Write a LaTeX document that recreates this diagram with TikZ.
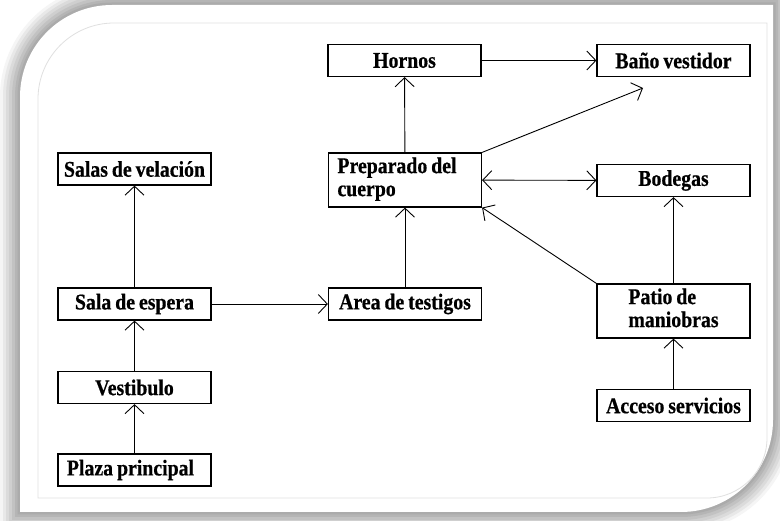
\documentclass[tikz,border=0pt]{standalone}
\usepackage{fontspec}
\setmainfont{Liberation Serif}[BoldFeatures={FakeStretch=0.88, FakeBold=0.6, WordSpace=0.8}]
\usetikzlibrary{arrows.meta}

\tikzset{
	place/.style={draw, line width=1.2pt, minimum width=153pt, minimum height=32pt,
			inner sep=4pt, font=\fontsize{22.5}{23}\selectfont\bfseries, align=center},
	barb/.tip={Straight Barb[length=9pt,width=19pt,line width=0.9pt]},
	flow/.style={line width=0.9pt, -barb}
}
\newcommand\shellpath{(20,512) [rounded corners=92pt] -- (20,5) [sharp corners] -- (773,5)
	[rounded corners=92pt] -- (773,512) [sharp corners] -- cycle}

\begin{document}
\begin{tikzpicture}[x=1pt, y=-1pt]
		\clip (0,0) rectangle (780,521);
		\fill[white] (0,0) rectangle (780,521);
		% soft shadow round the sheet
		\foreach \w/\g in {40/4, 34/9, 28/14, 22/19, 16/24, 10/29, 5/33}
			\draw[line width=\w pt, draw=black!\g] \shellpath;
		\fill[white] \shellpath;
		\draw[line width=0.8pt, draw=black!12] (38,498) [rounded corners=76pt] -- (38,23)
			[sharp corners] -- (767,23) [rounded corners=60pt] -- (767,498) [sharp corners] -- cycle;

		% rooms
		\node[place] (hornos) at (404.5,60.5) {Hornos};
		\node[place] (bano) at (673.5,60.5) {Baño vestidor};
		\node[place] (velacion) at (134.5,169) {Salas de velación};
		\node[place, minimum height=54pt] (preparado) at (405,180)
			{\begin{tabular}{@{}l@{\hspace{16pt}}}Preparado del\\cuerpo\end{tabular}};
		\node[place] (bodegas) at (673.5,180.5) {Bodegas};
		\node[place] (espera) at (134.5,304) {Sala de espera};
		\node[place] (testigos) at (405,304) {Area de testigos};
		\node[place, minimum height=54pt] (patio) at (673.5,311)
			{\begin{tabular}{@{}l@{}}Patio de\\maniobras\end{tabular}};
		\node[place] (vestibulo) at (134.5,387.5) {Vestibulo};
		\node[place] (plaza) at (134.5,470) {Plaza principal\hspace{8pt}};
		\node[place] (acceso) at (673.5,405.5) {Acceso servicios};
		\coordinate (banolibre) at (643,88);

		% circulation
		\draw[flow] (plaza) -- (vestibulo);
		\draw[flow] (vestibulo) -- (espera);
		\draw[flow] (espera) -- (velacion);
		\draw[flow] (espera) -- (testigos);
		\draw[flow] (testigos) -- (preparado);
		\draw[flow] (preparado) -- (hornos);
		\draw[flow] (hornos) -- (bano);
		\draw[flow] (preparado.north east) -- (banolibre);
		\draw[flow, barb-barb] (preparado) -- (bodegas);
		\draw[flow] (patio.north west) -- (preparado.south east);
		\draw[flow] (patio) -- (bodegas);
		\draw[flow] (acceso) -- (patio);
	\end{tikzpicture}
\end{document}
